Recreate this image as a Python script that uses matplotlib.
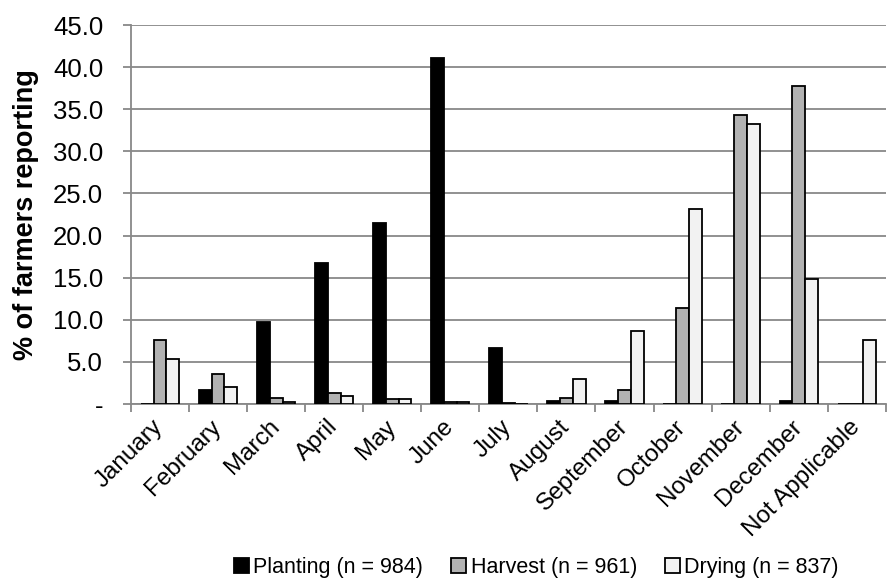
import matplotlib
matplotlib.use("Agg")
import matplotlib.pyplot as plt
import numpy as np

plt.rcParams['font.family'] = ['Liberation Sans', 'DejaVu Sans']

months = ["January", "February", "March", "April", "May", "June", "July",
          "August", "September", "October", "November", "December", "Not Applicable"]
planting = [0.0, 1.7, 9.7, 16.8, 21.5, 41.1, 6.6, 0.4, 0.4, 0.0, 0.0, 0.4, 0.0]
harvest = [7.6, 3.6, 0.7, 1.3, 0.6, 0.2, 0.1, 0.7, 1.7, 11.4, 34.3, 37.8, 0.0]
drying = [5.3, 2.0, 0.2, 1.0, 0.6, 0.2, 0.05, 3.0, 8.7, 23.2, 33.3, 14.8, 7.6]
labels = ["Planting (n = 984)", "Harvest (n = 961)", "Drying (n = 837)"]
colors = ["#000000", "#b2b2b2", "#f2f2f2"]
yticks = [0, 5, 10, 15, 20, 25, 30, 35, 40, 45]

fig = plt.figure(figsize=(8.88, 5.83), dpi=100)
ax = fig.add_axes([0.1475, 0.307, 0.85, 0.65])

x = np.arange(len(months))
w = 0.22
for i, (vals, lab, c) in enumerate(zip([planting, harvest, drying], labels, colors)):
    ax.bar(x + (i - 1) * w, vals, width=w, color=c, edgecolor="black", linewidth=1.3,
           label=lab, zorder=3)

ax.set_xlim(-0.5, len(months) - 0.5)
ax.set_ylim(0, 45)
ax.set_yticks(yticks)
ax.set_yticklabels(["-" if v == 0 else f"{v:.1f}" for v in yticks], fontsize=18.5)
ax.yaxis.grid(True, color="#888888", linewidth=1.3, zorder=0)
ax.set_ylabel("% of farmers reporting", fontsize=19.5, fontweight="bold", labelpad=10)

ax.set_xticks(x)
ax.set_xticklabels(months, rotation=45, ha="right", va="center",
                   rotation_mode="anchor", fontsize=17.5)
ax.set_xticks(np.arange(len(months) + 1) - 0.5, minor=True)
ax.tick_params(axis="x", which="major", length=0, pad=14)
ax.tick_params(axis="x", which="minor", length=6, color="#888888", width=1.3)
ax.tick_params(axis="y", length=6, color="#888888", width=1.3, pad=14)

for s in ["top", "right"]:
    ax.spines[s].set_visible(False)
for s in ["left", "bottom"]:
    ax.spines[s].set_color("#888888")
    ax.spines[s].set_linewidth(1.3)

fig.legend(loc="center", bbox_to_anchor=(0.604, 0.027), ncol=3, frameon=False,
           fontsize=15.5, handlelength=0.7, handleheight=0.7, handletextpad=0.2,
           columnspacing=1.3)

fig.savefig("out.png", dpi=100)
